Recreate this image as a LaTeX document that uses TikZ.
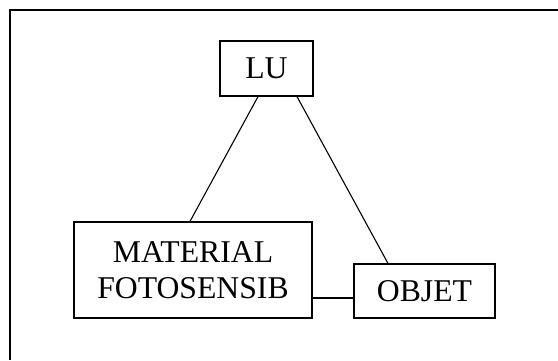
\documentclass[tikz,border=0pt]{standalone}
\usepackage{fontspec}
\setmainfont{Liberation Serif}
\begin{document}
\begin{tikzpicture}[x=1pt,y=-1pt,
  boxnode/.style={draw,line width=1.2pt,inner sep=0pt,font=\fontsize{31.7}{35.6}\selectfont,align=center},
  link/.style={line width=1.1pt}]
\useasboundingbox (0,0) rectangle (558,360);
\fill[white] (0,0) rectangle (558,360);
\coordinate (ftop) at (558,10);
\coordinate (fcorner) at (10,10);
\coordinate (fbot) at (10,360);
\draw[line width=1.8pt] (ftop) -- (fcorner) -- (fbot);
\node[boxnode,minimum width=93pt,minimum height=55pt] (lu) at (266.5,68.5) {LU};
\node[boxnode,minimum width=238pt,minimum height=96pt] (mat) at (193,270) {MATERIAL\\FOTOSENSIB};
\node[boxnode,minimum width=141pt,minimum height=54pt] (obj) at (424.5,291) {OBJET};
\draw[link] (lu.south -| 258,0) -- (mat.north -| 190,0);
\draw[link] (lu.south -| 297,0) -- (obj.north -| 388,0);
\draw[link] (mat.east |- 0,298) -- (obj.west |- 0,298);
\end{tikzpicture}
\end{document}
